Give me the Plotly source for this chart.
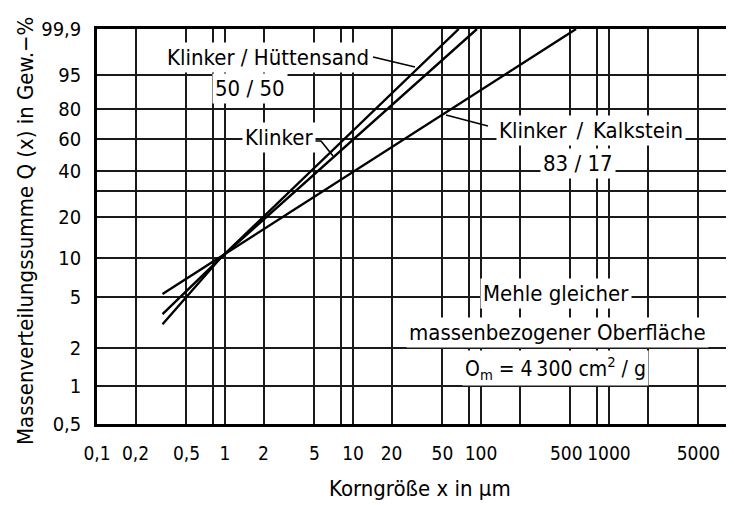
import numpy as np
import plotly.graph_objects as go

# ---------------- data ----------------
x_tick_values = [0.1, 0.2, 0.5, 0.8, 1, 2, 5, 8, 10, 20, 50, 80, 100, 200, 500, 800, 1000, 2000, 5000]
x_tick_labels = ["0,1", "0,2", "0,5", "", "1", "2", "5", "", "10", "20", "50", "", "100", "",
                 "500\u2002", "", "1000", "", "5000"]

q_tick_values = [0.5, 1, 2, 5, 10, 20, 30, 40, 60, 80, 95, 99.9]
q_tick_labels = ["0,5", "1", "2", "5", "10", "20", "", "40", "60", "80", "95", "99,9"]

# particle size (µm) and cumulative mass (%)
x_huettensand = [0.325, 0.93, 67]
q_huettensand = [3.06, 10, 99.9]

x_klinker = [0.325, 0.93, 93]
q_klinker = [3.67, 10, 99.9]

x_kalkstein = [0.325, 553]
q_kalkstein = [5.27, 99.9]

q_range = [0.5, 99.9]
x_range = [0.1, 10000]


def rrsb(q):
    """RRSB (Weibull) ordinate: -ln(1 - Q)."""
    return -np.log(1 - np.asarray(q, dtype=float) / 100.0)


FONT = "DejaVu Sans Condensed, Liberation Sans Narrow, DejaVu Sans, sans-serif"

fig = go.Figure()
for xs, qs in [(x_huettensand, q_huettensand), (x_klinker, q_klinker), (x_kalkstein, q_kalkstein)]:
    fig.add_trace(go.Scatter(x=xs, y=rrsb(qs), mode="lines",
                             line=dict(color="black", width=2.4), showlegend=False,
                             hoverinfo="skip"))

fig.update_xaxes(type="log", range=[np.log10(x_range[0]), np.log10(x_range[1])],
                 tickmode="array", tickvals=x_tick_values, ticktext=x_tick_labels,
                 showgrid=True, gridcolor="#1a1a1a", gridwidth=1.8,
                 showline=True, linecolor="black", linewidth=2.5, mirror=True,
                 ticks="", ticklabelstandoff=10, tickangle=0, automargin=False,
                 tickfont=dict(family=FONT, size=19, color="black"))
fig.update_yaxes(type="log", range=[np.log10(rrsb(q_range[0])), np.log10(rrsb(q_range[1]))],
                 tickmode="array", tickvals=rrsb(q_tick_values), ticktext=q_tick_labels,
                 showgrid=True, gridcolor="#1a1a1a", gridwidth=1.8,
                 showline=True, linecolor="black", linewidth=2.5,
                 ticks="", ticklabelstandoff=9, automargin=False,
                 tickfont=dict(family=FONT, size=20, color="black"))

# plot-area placement in page pixels (page body adds an 8 px offset)
OFF = 8
L, T, W, H = 97, 29, 640, 395


def px(xp, yp):
    return (xp - L) / W, (T + H - yp) / H


def note(text, xp, yp, size=22, bg="white", angle=0):
    x, y = px(xp, yp)
    fig.add_annotation(text=text, x=x, y=y, xref="paper", yref="paper",
                       xanchor="center", yanchor="middle", textangle=angle,
                       showarrow=False, bgcolor=bg, borderpad=2,
                       font=dict(family=FONT, size=size, color="black"))


note("Klinker / Hüttensand", 268, 57)
note("50 / 50", 250, 88)
note("Klinker", 279, 137)
note("Klinker\u2002/\u2002Kalkstein", 591, 130)
note("83 / 17", 578, 163)
note("Mehle gleicher", 556, 293)
note("massenbezogener Oberfläche", 557, 332)
note("O<sub>m</sub> = 4\u2009300 cm<sup>2</sup> / g", 555, 368, size=21)


def leader(points):
    path = ""
    for i, (xp, yp) in enumerate(points):
        x, y = px(xp, yp)
        path += ("M" if i == 0 else " L") + f" {x:.4f} {y:.4f}"
    fig.add_shape(type="path", path=path, xref="paper", yref="paper",
                  line=dict(color="black", width=1.6))


leader([(373, 57), (415, 67)])
leader([(312, 141), (321, 141), (333, 156)])
leader([(488, 126), (446, 115)])

# axis titles
note("Korngröße x in μm", 420, 488, bg="rgba(0,0,0,0)")
note("Massenverteilungssumme Q (x) in Gew.−%", 25, 231, bg="rgba(0,0,0,0)", angle=-90)

fig.update_layout(width=734, height=505,
                  margin=dict(l=L - OFF, r=734 - (L - OFF) - W, t=T - OFF, b=505 - (T - OFF) - H),
                  paper_bgcolor="white", plot_bgcolor="white",
                  showlegend=False)

fig.write_html("out.html")
